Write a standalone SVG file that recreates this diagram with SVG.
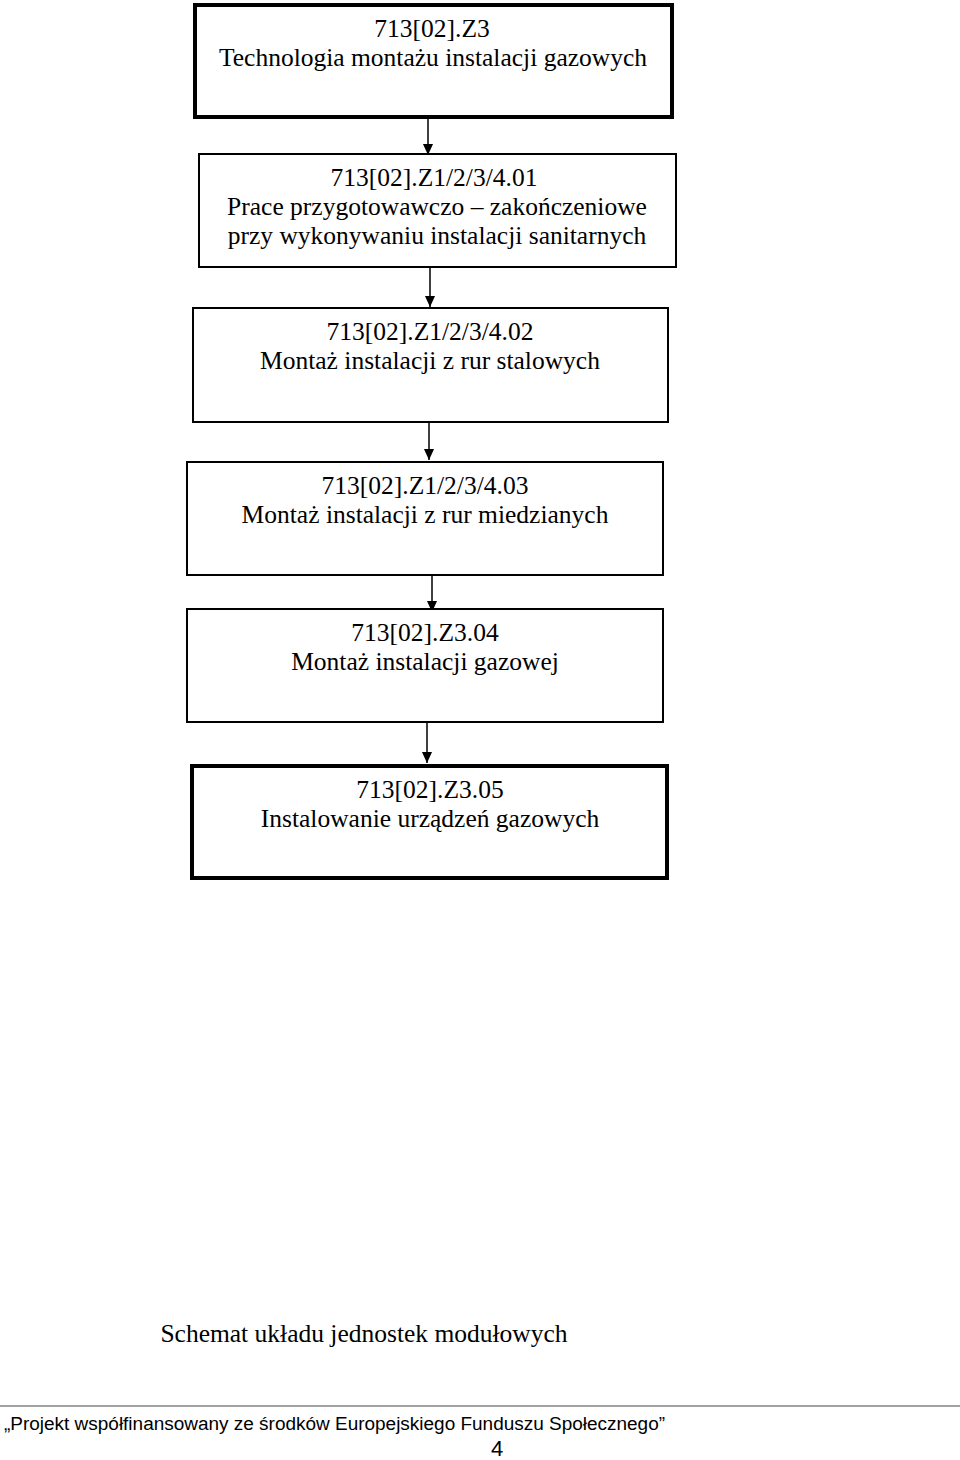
<svg xmlns="http://www.w3.org/2000/svg" width="960" height="1460" viewBox="0 0 960 1460">
<style>
.t{font-family:"Liberation Serif","Times New Roman",serif;font-size:25.5px;fill:#000;text-anchor:middle}
.box{fill:#fff;stroke:#000;stroke-width:2}
.thick{stroke-width:4}
.conn{stroke:#000;stroke-width:1.5;fill:none}
.f{font-family:"Liberation Sans",Arial,sans-serif;fill:#000}
</style>
<defs>
<marker id="arr" markerWidth="11" markerHeight="12" refX="12" refY="5.5" orient="auto" markerUnits="userSpaceOnUse" viewBox="0 0 12 11">
<path d="M0,0 L12,5.5 L0,11 Z" fill="#000"/>
</marker>
</defs>
<rect width="960" height="1460" fill="#fff"/>
<g id="connectors">
<line class="conn" x1="428" y1="118" x2="428" y2="155" marker-end="url(#arr)"/>
<line class="conn" x1="430" y1="268" x2="430" y2="307" marker-end="url(#arr)"/>
<line class="conn" x1="429" y1="422" x2="429" y2="460" marker-end="url(#arr)"/>
<line class="conn" x1="432" y1="574" x2="432" y2="612" marker-end="url(#arr)"/>
<line class="conn" x1="427" y1="723" x2="427" y2="763" marker-end="url(#arr)"/>
</g>
<g id="n1">
<rect class="box thick" x="195" y="5" width="477" height="112"/>
<text class="t" x="432" y="37">713[02].Z3</text>
<text class="t" x="433" y="66">Technologia montażu instalacji gazowych</text>
</g>
<g id="n2">
<rect class="box" x="199" y="154" width="477" height="113"/>
<text class="t" x="434" y="186">713[02].Z1/2/3/4.01</text>
<text class="t" x="437" y="215">Prace przygotowawczo – zakończeniowe</text>
<text class="t" x="437" y="244">przy wykonywaniu instalacji sanitarnych</text>
</g>
<g id="n3">
<rect class="box" x="193" y="308" width="475" height="114"/>
<text class="t" x="430" y="340">713[02].Z1/2/3/4.02</text>
<text class="t" x="430" y="369">Montaż instalacji z rur stalowych</text>
</g>
<g id="n4">
<rect class="box" x="187" y="462" width="476" height="113"/>
<text class="t" x="425" y="494">713[02].Z1/2/3/4.03</text>
<text class="t" x="425" y="523">Montaż instalacji z rur miedzianych</text>
</g>
<g id="n5">
<rect class="box" x="187" y="609" width="476" height="113"/>
<text class="t" x="425" y="641">713[02].Z3.04</text>
<text class="t" x="425" y="670">Montaż instalacji gazowej</text>
</g>
<g id="n6">
<rect class="box thick" x="192" y="766" width="475" height="112"/>
<text class="t" x="430" y="798">713[02].Z3.05</text>
<text class="t" x="430" y="827">Instalowanie urządzeń gazowych</text>
</g>
<text class="t" x="364" y="1342">Schemat układu jednostek modułowych</text>
<line x1="0" y1="1406" x2="960" y2="1406" stroke="#444" stroke-width="1.2"/>
<text class="f" x="4" y="1430" font-size="18" textLength="661" lengthAdjust="spacingAndGlyphs">„Projekt współfinansowany ze środków Europejskiego Funduszu Społecznego”</text>
<text class="f" x="497" y="1456" font-size="22" text-anchor="middle">4</text>
</svg>
